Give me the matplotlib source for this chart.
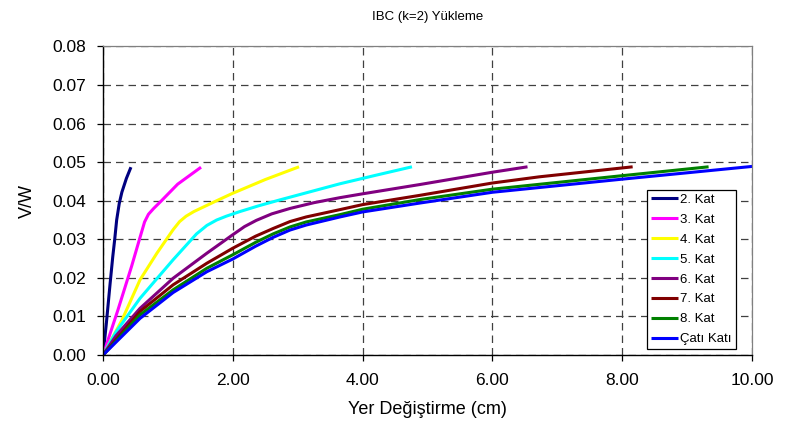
import matplotlib
matplotlib.use('Agg')
import matplotlib.pyplot as plt
from matplotlib.ticker import FormatStrFormatter, MultipleLocator

plt.rcParams['font.family'] = ['Liberation Sans', 'DejaVu Sans']

# kat etiketleri ve renkleri
labels = ['2. Kat', '3. Kat', '4. Kat', '5. Kat', '6. Kat', '7. Kat', '8. Kat', 'Çatı Katı']
colors = ['#000080', '#FF00FF', '#FFFF00', '#00FFFF', '#800080', '#800000', '#008000', '#0000FF']

# yer degistirme (cm) - V/W egrileri
x2 = [0.0, 0.05, 0.11, 0.15, 0.18, 0.21, 0.25, 0.29, 0.36, 0.43]
y2 = [0.0, 0.008, 0.0187, 0.0255, 0.030, 0.0350, 0.0393, 0.0422, 0.0458, 0.0487]

x3 = [0.0, 0.23, 0.44, 0.57, 0.64, 0.7, 0.78, 0.9, 1.15, 1.51]
y3 = [0.0, 0.0117, 0.023, 0.0305, 0.0345, 0.0365, 0.0380, 0.0400, 0.0443, 0.0487]

x4 = [0.0, 0.29, 0.57, 0.83, 1.08, 1.18, 1.28, 1.4, 1.55, 1.75, 1.98, 2.5, 3.02]
y4 = [0.0, 0.009, 0.0195, 0.0264, 0.0325, 0.0346, 0.0360, 0.0372, 0.0384, 0.0400, 0.0418, 0.0455, 0.0488]

x5 = [0.0, 0.2, 0.57, 1.08, 1.44, 1.6, 1.75, 1.9, 2.11, 2.4, 2.72, 3.34, 3.65, 4.2, 4.76]
y5 = [0.0, 0.006, 0.0147, 0.0247, 0.0314, 0.0336, 0.0350, 0.0360, 0.0372, 0.0387, 0.0402, 0.0430, 0.0444, 0.0466, 0.0488]

x6 = [0.0, 0.2, 0.57, 1.08, 1.6, 2.0, 2.18, 2.36, 2.6, 2.88, 3.25, 3.65, 4.0, 4.88, 6.0, 6.54]
y6 = [0.0, 0.005, 0.0121, 0.0199, 0.0264, 0.0312, 0.0333, 0.0349, 0.0366, 0.0380, 0.0395, 0.0408, 0.0418, 0.0442, 0.0474, 0.0488]

x7 = [0.0, 0.57, 1.08, 1.6, 2.0, 2.35, 2.62, 2.88, 3.13, 3.65, 4.0, 4.88, 6.0, 6.72, 8.16]
y7 = [0.0, 0.0113, 0.0182, 0.0238, 0.0277, 0.0308, 0.0328, 0.0346, 0.0358, 0.0377, 0.0390, 0.0414, 0.0446, 0.0462, 0.0488]

x8 = [0.0, 0.57, 1.08, 1.6, 2.0, 2.35, 2.62, 2.88, 3.13, 3.65, 4.0, 4.88, 6.0, 8.0, 9.33]
y8 = [0.0, 0.0104, 0.0169, 0.0225, 0.0260, 0.0292, 0.0314, 0.0332, 0.0345, 0.0364, 0.0378, 0.0403, 0.0430, 0.0465, 0.0488]

xc = [0.0, 0.57, 1.08, 1.6, 2.0, 2.35, 2.62, 2.88, 3.13, 3.65, 4.0, 4.88, 6.0, 8.0, 10.0]
yc = [0.0, 0.0095, 0.0162, 0.0216, 0.0249, 0.0282, 0.0305, 0.0324, 0.0337, 0.0358, 0.0371, 0.0394, 0.0422, 0.0456, 0.0489]

xs = [x2, x3, x4, x5, x6, x7, x8, xc]
ys = [y2, y3, y4, y5, y6, y7, y8, yc]

fig = plt.figure(figsize=(7.95, 4.30), dpi=100)
ax = fig.add_axes([0.1296, 0.1744, 0.8164, 0.7175])

for x, y, c, lab in zip(xs, ys, colors, labels):
    ax.plot(x, y, color=c, lw=2.2, label=lab, solid_capstyle='butt',
            solid_joinstyle='round')

ax.set_xlim(0, 10)
ax.set_ylim(0, 0.08)
ax.xaxis.set_major_locator(MultipleLocator(2))
ax.yaxis.set_major_locator(MultipleLocator(0.01))
ax.xaxis.set_major_formatter(FormatStrFormatter('%.2f'))
ax.yaxis.set_major_formatter(FormatStrFormatter('%.2f'))

ax.grid(True, color='0.25', lw=0.9, ls=(0, (6, 4)))
ax.set_axisbelow(True)
for s in ['top', 'right']:
    ax.spines[s].set_color('0.5')
    ax.spines[s].set_linewidth(0.9)
for s in ['left', 'bottom']:
    ax.spines[s].set_linewidth(1.0)

ax.tick_params(direction='out', length=4, width=0.9, labelsize=12.5)
ax.tick_params(axis='x', pad=9)
ax.tick_params(axis='y', pad=8)

ax.set_title('IBC (k=2) Yükleme', fontsize=9.5, pad=19)
ax.set_xlabel('Yer Değiştirme (cm)', fontsize=13, labelpad=9)
ax.set_ylabel('V/W', fontsize=13, labelpad=12)

leg = ax.legend(loc='lower right', bbox_to_anchor=(0.975, 0.019), borderaxespad=0,
                fontsize=9.5, frameon=True, fancybox=False, framealpha=1,
                edgecolor='k', handlelength=2.0, handletextpad=0.2,
                labelspacing=0.58, borderpad=0.3)
leg.get_frame().set_linewidth(0.9)

fig.savefig('out.png', dpi=100)
